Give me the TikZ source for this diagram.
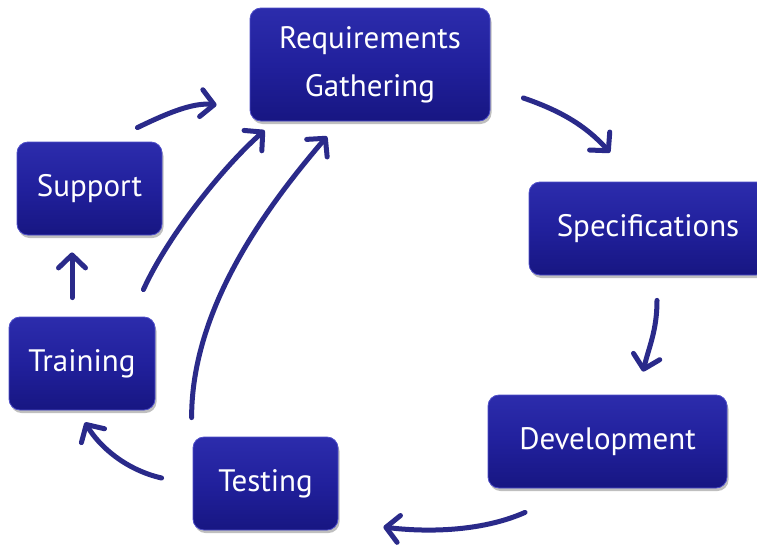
\documentclass[tikz,border=0pt]{standalone}
\usepackage{fontspec}
\setmainfont{PT Sans}
\usetikzlibrary{arrows.meta,calc,shadows}
\definecolor{boxtop}{HTML}{2C2CAC}
\definecolor{boxmid}{HTML}{21209C}
\definecolor{boxbot}{HTML}{171682}
\definecolor{boxedge}{HTML}{4E4EC8}
\definecolor{arrowblue}{HTML}{2A2A8A}
\begin{document}
\begin{tikzpicture}[x=1pt,y=-1pt,
  stagebox/.style={rounded corners=11pt, top color=boxtop, bottom color=boxbot,
    middle color=boxmid, draw=boxedge, line width=0.8pt, text=white,
    font=\fontsize{31}{48}\selectfont, align=center, inner sep=0pt,
    general shadow={fill=black, opacity=0.25, shadow xshift=1.5pt, shadow yshift=-3pt}},
  flow/.style={draw=arrowblue, line width=5pt, line cap=round,
    -{Straight Barb[length=13pt,width=27pt,round]}}]
  \useasboundingbox (0,0) rectangle (757,549);
  \fill[white] (0,0) rectangle (757,549);

  % process stages
  \node[stagebox, minimum width=240pt, minimum height=113pt] (req)   at (370,64.5)  {Requirements\\Gathering};
  \node[stagebox, minimum width=238pt, minimum height=93pt]  (spec)  at (648,228.5) {Specifications};
  \node[stagebox, minimum width=239pt, minimum height=93pt]  (dev)   at (607.5,441.5) {Development};
  \node[stagebox, minimum width=145pt, minimum height=93pt]  (test)  at (265.5,483.5) {Testing};
  \node[stagebox, minimum width=146pt, minimum height=93pt]  (train) at (82,363.5)  {Training};
  \node[stagebox, minimum width=145pt, minimum height=93pt]  (sup)   at (89.5,188.5) {Support};

  % main cycle
  \draw[flow] ($(req.east)+(33,33.5)$) .. controls +(35,12) and +(-25,-28) .. ($(spec.north)+(-38,-29)$);
  \draw[flow] ($(spec.south)+(9,25)$) .. controls +(0,30) and +(6,-25) .. ($(dev.north)+(35.5,-23)$);
  \draw[flow] ($(dev.south)+(-82.5,24)$) .. controls +(-45,20) and +(40,5) .. ($(test.east)+(45,43.5)$);
  \draw[flow] ($(test.west)+(-31,-5.5)$) .. controls +(-35,-8) and +(15,25) .. ($(train.south)+(3,12)$);
  \draw[flow] ($(train.north)+(-10,-19)$) -- ($(sup.south)+(-17.5,17)$);
  \draw[flow] ($(sup.north east)+(-25,-14)$) .. controls +(25,-12) and +(-25,-3) .. ($(req.west)+(-33,40.5)$);

  % feedback into requirements
  \draw[flow] ($(train.north east)+(-12,-27)$) .. controls +(25,-55) and +(-40,35) .. ($(req.south west)+(15,9)$);
  \draw[flow] ($(test.north west)+(-1,-19)$) .. controls +(0,-110) and +(-60,70) .. ($(req.south)+(-43,15)$);
\end{tikzpicture}
\end{document}
